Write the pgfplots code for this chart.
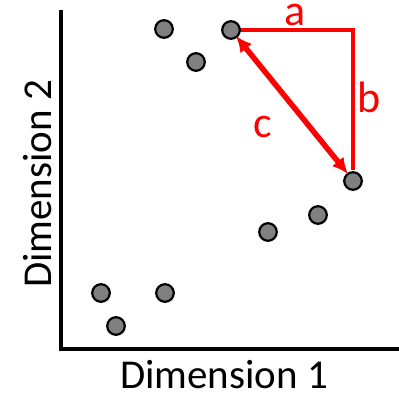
\documentclass[border=0pt]{standalone}
\usepackage{fontspec}
\setmainfont{Carlito}
\usepackage{pgfplots}
\pgfplotsset{compat=1.18}
\usetikzlibrary{arrows.meta}
\definecolor{ptgray}{HTML}{808080}
\begin{document}
\begin{tikzpicture}
\begin{axis}[
  scale only axis, width=338bp, height=339bp,
  xmin=61, xmax=399, ymin=-349, ymax=-10,
  axis lines=none, clip=false,
  ticks=none,
]
% axes
\addplot[black, line width=3.4bp] coordinates {(61,-10) (61,-349) (399,-349)};
% red legs a and b
\addplot[red, line width=3.2bp] coordinates {(231,-30) (353,-30) (353,-170)};
% arrow c
\addplot[red, line width=5.5bp, {Latex[length=16bp,width=15bp]}-{Latex[length=16bp,width=15bp]}] coordinates {(236,-36) (348,-174)};
% points
\addplot[only marks, mark=*, mark size=8.8bp, mark options={fill=ptgray, draw=black, line width=2.2bp}] coordinates {
(164,-29) (231,-30) (196,-62) (353,-181) (318,-215) (268,-232) (101,-293) (165,-293) (116,-326)};
% labels
\node[anchor=base, inner sep=0, font=\fontsize{41bp}{48bp}\selectfont] at (axis cs:224,-388) {Dimension 1};
\node[anchor=base, rotate=90, inner sep=0, font=\fontsize{41bp}{48bp}\selectfont] at (axis cs:51.7,-184) {Dimension 2};
\node[anchor=base, inner sep=0, text=red, font=\fontsize{44bp}{50bp}\selectfont] at (axis cs:295,-26) {a};
\node[anchor=base, inner sep=0, text=red, font=\fontsize{44bp}{50bp}\selectfont] at (axis cs:369,-113) {b};
\node[anchor=base, inner sep=0, text=red, font=\fontsize{44bp}{50bp}\selectfont] at (axis cs:263,-138) {c};
\coordinate (BL) at (axis cs:0,-394);
\coordinate (TR) at (axis cs:399,0);
\end{axis}
\pgfresetboundingbox
\path (BL) rectangle (TR);
\end{tikzpicture}
\end{document}
